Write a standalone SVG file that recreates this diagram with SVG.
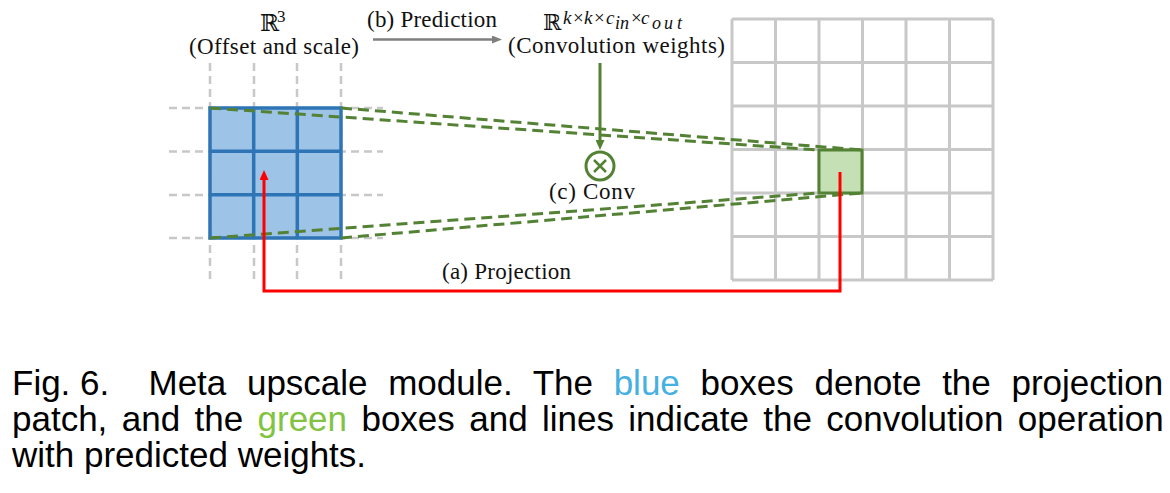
<svg xmlns="http://www.w3.org/2000/svg" width="1170" height="493" viewBox="0 0 1170 493">
<style>
.serif{font-family:"Liberation Serif","DejaVu Serif",serif;fill:#111}
.sans{font-family:"Liberation Sans",Arial,sans-serif;fill:#000;font-size:35px}
.gdash{stroke:#c8c8c8;stroke-width:2.5;stroke-dasharray:8 5;fill:none}
.ggrid{stroke:#c8c8c8;stroke-width:3;fill:none}
.bgrid{stroke:#2e75b6;stroke-width:3.5;fill:none}
.greendash{stroke:#548235;stroke-width:3;stroke-dasharray:11 6;fill:none}
</style>
<defs>
<marker id="ahGray" viewBox="0 0 10 8" refX="3" refY="4" markerWidth="10" markerHeight="8" markerUnits="userSpaceOnUse" orient="auto"><path d="M0,0 L10,4 L0,8 z" fill="#7f7f7f"/></marker>
<marker id="ahGreen" viewBox="0 0 10 9" refX="3" refY="4.5" markerWidth="10" markerHeight="9" markerUnits="userSpaceOnUse" orient="auto"><path d="M0,0 L10,4.5 L0,9 z" fill="#548235"/></marker>
<marker id="ahRed" viewBox="0 0 10 9" refX="2" refY="4.5" markerWidth="10" markerHeight="9" markerUnits="userSpaceOnUse" orient="auto"><path d="M0,0 L10,4.5 L0,9 z" fill="#ff0000"/></marker>
</defs>
<rect width="1170" height="493" fill="#fff"/>

<g id="input-grid">
<path class="gdash" d="M210,63V283M254,63V283M297,63V283M341,63V283M169,108H383M169,151.5H383M169,195H383M169,238H383"/>
<rect x="210" y="108" width="131" height="130" fill="#9dc3e6"/>
<path class="bgrid" d="M210,108H341V238H210Z M253.7,108V238 M297.3,108V238 M210,151.3H341 M210,194.7H341"/>
</g>

<g id="output-grid">
<path class="ggrid" d="M732,19V280M775.5,19V280M819,19V280M862.5,19V280M906,19V280M949.5,19V280M993,19V280M732,19H993M732,62.5H993M732,106H993M732,149.5H993M732,193H993M732,236.5H993M732,280H993"/>
</g>

<g id="output-patch">
<rect x="819" y="150" width="43" height="43" fill="#c5e0b4" stroke="#548235" stroke-width="3"/>
</g>

<g id="conv-op">
<circle cx="600" cy="166" r="14" fill="none" stroke="#548235" stroke-width="3"/>
<path d="M594,160L606,172M606,160L594,172" stroke="#548235" stroke-width="2.5"/>
<text class="serif" x="549" y="199" font-size="23" textLength="86" lengthAdjust="spacing">(c) Conv</text>
</g>

<g id="connectors">
<path class="greendash" d="M210,108L819,150M341,108L862,150M210,238L819,193M341,238L862,193"/>
<path d="M840,172V291H264V178" fill="none" stroke="#ff0000" stroke-width="3" marker-end="url(#ahRed)"/>
<line x1="373" y1="39.5" x2="495" y2="39.5" stroke="#7f7f7f" stroke-width="2.5" marker-end="url(#ahGray)"/>
<path d="M600,63V143" stroke="#548235" stroke-width="3" fill="none" marker-end="url(#ahGreen)"/>
</g>

<g id="label-offset">
<text class="serif" x="260" y="31" font-size="23">ℝ</text>
<text class="serif" x="277" y="22" font-size="17">3</text>
<text class="serif" x="189" y="54" font-size="23" textLength="170" lengthAdjust="spacing">(Offset and scale)</text>
</g>

<g id="label-prediction">
<text class="serif" x="367" y="27" font-size="23" textLength="130" lengthAdjust="spacing">(b) Prediction</text>
</g>

<g id="label-weights">
<text class="serif" x="543" y="30" font-size="22">ℝ</text>
<text class="serif" y="24" font-size="19" font-style="italic"><tspan x="563">k</tspan><tspan x="573" font-style="normal">×</tspan><tspan x="584">k</tspan><tspan x="594" font-style="normal">×</tspan><tspan x="606">c</tspan><tspan x="615" y="29" font-size="18">i</tspan><tspan x="620" y="29" font-size="18">n</tspan><tspan x="631" y="24" font-style="normal">×</tspan><tspan x="641">c</tspan><tspan x="652" y="29" font-size="18">o</tspan><tspan x="664" y="29" font-size="18">u</tspan><tspan x="677" y="29" font-size="18">t</tspan></text>
<text class="serif" x="508" y="53" font-size="23" textLength="217" lengthAdjust="spacing">(Convolution weights)</text>
</g>

<g id="label-projection">
<text class="serif" x="442" y="279" font-size="23" textLength="129" lengthAdjust="spacing">(a) Projection</text>
</g>

<g id="caption">
<text class="sans" y="395"><tspan x="12">Fig. 6.</tspan><tspan x="148.5" word-spacing="10.9">Meta upscale module. The <tspan fill="#46b0e0">blue</tspan> boxes denote the projection</tspan></text>
<text class="sans" y="431" word-spacing="4.65"><tspan x="12">patch, and the <tspan fill="#82c341">green</tspan> boxes and lines indicate the convolution operation</tspan></text>
<text class="sans" x="12" y="467">with predicted weights.</text>
</g>
</svg>
